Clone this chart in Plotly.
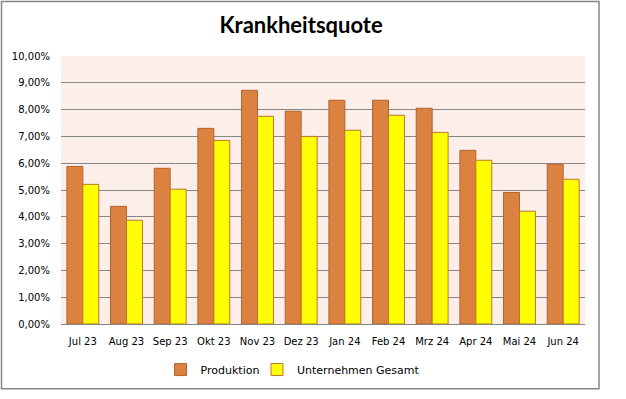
import plotly.graph_objects as go

months = ["Jul 23", "Aug 23", "Sep 23", "Okt 23", "Nov 23", "Dez 23",
          "Jan 24", "Feb 24", "Mrz 24", "Apr 24", "Mai 24", "Jun 24"]
produktion = [0.0588, 0.0439, 0.0581, 0.0730, 0.0872, 0.0794,
              0.0835, 0.0835, 0.0805, 0.0648, 0.0491, 0.0596]
gesamt = [0.0521, 0.0387, 0.0503, 0.0685, 0.0775, 0.0700,
          0.0723, 0.0779, 0.0715, 0.0611, 0.0421, 0.0540]
y_ticks = [i / 100 for i in range(0, 11)]

font_main = "DejaVu Sans"

fig = go.Figure()
fig.add_trace(go.Bar(
    x=months, y=produktion, name="Produktion", legend="legend",
    marker=dict(color="#DB8240", line=dict(color="#B5622B", width=1)),
))
fig.add_trace(go.Bar(
    x=months, y=gesamt, name="Unternehmen Gesamt", legend="legend2",
    marker=dict(color="#FFFF00", line=dict(color="#C0742E", width=1)),
))

legend_common = dict(orientation="h", xanchor="left", y=-0.17, yanchor="middle",
                     font=dict(family=font_main, size=11), itemwidth=30,
                     bgcolor="rgba(0,0,0,0)")

fig.update_layout(
    width=626, height=399,
    margin=dict(l=61, r=41, t=56, b=75),
    paper_bgcolor="white",
    plot_bgcolor="#FCEEE9",
    separators=",.",
    barmode="group",
    bargap=0.27,
    bargroupgap=0,
    title=dict(text="<b>Krankheitsquote</b>", x=0.481, xanchor="center",
               y=0.937, yanchor="middle",
               font=dict(family="Lato", size=22, color="black")),
    font=dict(family=font_main, size=10, color="black"),
    legend=dict(x=0.19, **legend_common),
    legend2=dict(x=0.374, **legend_common),
    showlegend=True,
)
fig.update_yaxes(
    range=[0, 0.1], tickvals=y_ticks, tickformat=".2%",
    showgrid=True, gridcolor="#868686", gridwidth=1,
    zeroline=True, zerolinecolor="#868686", zerolinewidth=1,
    showline=False, ticks="", ticklabelstandoff=10,
    tickfont=dict(family=font_main, size=10),
)
fig.update_xaxes(
    showline=True, linecolor="#868686", linewidth=1,
    ticks="", ticklabelstandoff=8,
    tickfont=dict(family=font_main, size=10),
)
# outer chart border
fig.add_shape(type="rect", xref="paper", yref="paper",
              x0=(1.5 - 61) / 524, x1=(599 - 61) / 524,
              y0=(324.3 - 389) / 268.3, y1=(324.3 - 1.5) / 268.3,
              line=dict(color="#868686", width=1.5), fillcolor="rgba(0,0,0,0)",
              layer="below")

fig.write_html(
    "out.html",
    config={"displayModeBar": False},
    post_script="document.body.style.margin='0';document.body.style.overflow='hidden';",
)
